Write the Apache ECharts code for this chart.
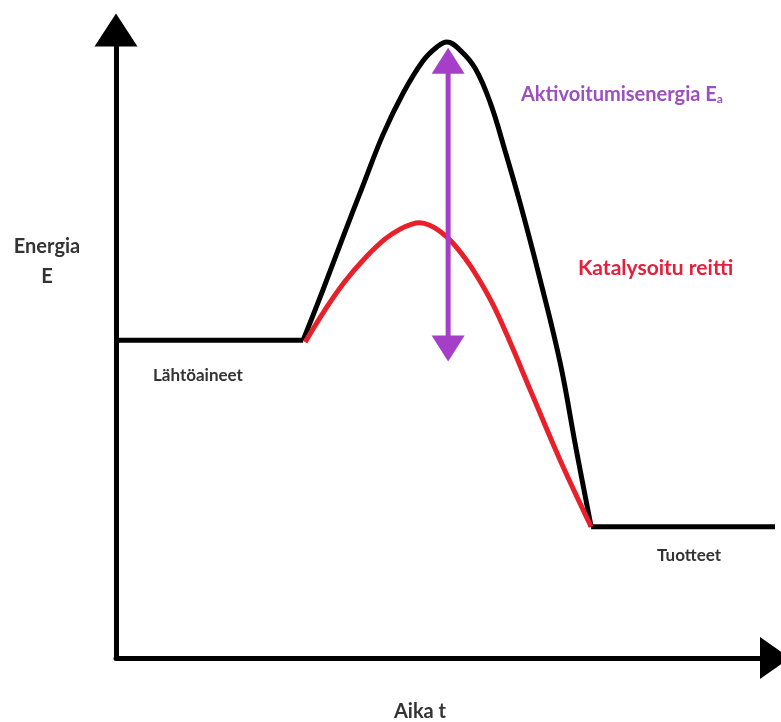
<!DOCTYPE html>
<html>
<head>
<meta charset="utf-8">
<script src="https://cdn.jsdelivr.net/npm/echarts@6/dist/echarts.min.js"></script>
<style>
  html, body { margin: 0; padding: 0; background: #ffffff; }
  #chart { width: 781px; height: 722px; }
</style>
</head>
<body>
<div id="chart"></div>
<script>
// Energy diagram data (arbitrary units: time 0..100, energy 0..100)
const reactantLine = [[0, 50.6], [28.4, 50.6]];
const uncatalysedPath = [
  [28.4, 50.6], [31.4, 58.6], [34.4, 66.9], [37.5, 75.3], [40.5, 83.3],
  [43.6, 90.0], [46.6, 95.1], [48.7, 97.3], [50.2, 98.1], [52.2, 96.8],
  [54.5, 93.9], [56.8, 88.4], [59.0, 80.9], [61.3, 72.5], [64.3, 60.5],
  [67.4, 47.0], [69.8, 33.4], [72.1, 20.9]
];
const catalysedPath = [
  [28.7, 50.3], [31.7, 55.4], [34.7, 59.9], [37.8, 63.7], [40.8, 66.7],
  [43.1, 68.3], [44.9, 69.1], [46.1, 69.3], [47.6, 68.9], [49.2, 67.9],
  [51.0, 66.2], [53.0, 63.6], [54.9, 60.6], [57.1, 56.5], [59.3, 51.5],
  [63.3, 41.6], [67.4, 31.5], [72.1, 20.9]
];
const productLine = [[72.1, 20.9], [100, 20.9]];
const eaArrow = [[50.4, 95.1], [50.4, 49.3]];

const labels = {
  yName: 'Energia\nE',
  xName: 'Aika t',
  reactants: 'Lähtöaineet',
  products: 'Tuotteet',
  catalysed: 'Katalysoitu reitti',
  ea: 'Aktivoitumisenergia E',
  eaSub: 'a'
};

const BLACK = '#000000';
const RED = '#e8202a';
const PURPLE = '#a63fc8';
const FONT = 'Lato, "Open Sans", sans-serif';

const chart = echarts.init(document.getElementById('chart'), null, { renderer: 'canvas' });

const axisCommon = {
  type: 'value',
  min: 0,
  max: 100,
  axisTick: { show: false },
  axisLabel: { show: false },
  splitLine: { show: false }
};

chart.setOption({
  animation: false,
  backgroundColor: '#ffffff',
  grid: { left: 116, right: 6, top: 30, bottom: 64, containLabel: false },
  xAxis: Object.assign({}, axisCommon, {
    axisLine: {
      show: true, onZero: false,
      symbol: ['none', 'triangle'], symbolSize: [42, 30],
      lineStyle: { color: BLACK, width: 5 }
    }
  }),
  yAxis: Object.assign({}, axisCommon, {
    axisLine: {
      show: true, onZero: false,
      symbol: ['none', 'triangle'], symbolSize: [43, 33],
      lineStyle: { color: BLACK, width: 5 }
    }
  }),
  series: [
    { type: 'line', data: reactantLine, symbol: 'none', lineStyle: { color: BLACK, width: 5 }, z: 2 },
    { type: 'line', data: productLine, symbol: 'none', lineStyle: { color: BLACK, width: 5 }, z: 2, clip: false },
    { type: 'line', data: uncatalysedPath, symbol: 'none', smooth: 0.4, lineStyle: { color: BLACK, width: 5 }, z: 2 },
    { type: 'line', data: catalysedPath, symbol: 'none', smooth: 0.4, lineStyle: { color: RED, width: 5 }, z: 3 },
    {
      type: 'line',
      data: [
        { value: eaArrow[0], symbolRotate: 0 },
        { value: eaArrow[1], symbolRotate: 180 }
      ],
      symbol: 'triangle', symbolSize: [33, 26], showAllSymbol: true,
      lineStyle: { color: PURPLE, width: 5 },
      itemStyle: { color: PURPLE },
      z: 4
    }
  ],
  graphic: [
    { type: 'text', style: { text: labels.yName, x: 47, y: 262, align: 'center', verticalAlign: 'middle', lineHeight: 30, font: 'bold 20px ' + FONT, fill: '#333333' } },
    { type: 'text', style: { text: labels.xName, x: 420, y: 712, align: 'center', verticalAlign: 'middle', font: 'bold 20px ' + FONT, fill: '#333333' } },
    { type: 'text', style: { text: labels.reactants, x: 153, y: 376, align: 'left', verticalAlign: 'middle', font: 'bold 17px ' + FONT, fill: '#333333' } },
    { type: 'text', style: { text: labels.products, x: 657, y: 556, align: 'left', verticalAlign: 'middle', font: 'bold 17px ' + FONT, fill: '#333333' } },
    { type: 'text', style: { text: labels.catalysed, x: 578, y: 268, align: 'left', verticalAlign: 'middle', font: 'bold 21px ' + FONT, fill: '#e2203c' } },
    {
      type: 'text',
      style: {
        text: '{m|' + labels.ea + '}{s|' + labels.eaSub + '}',
        x: 521, y: 95, align: 'left', verticalAlign: 'middle',
        rich: {
          m: { font: 'bold 20px ' + FONT, fill: '#9b4fc0', color: '#9b4fc0' },
          s: { font: 'bold 12px ' + FONT, fill: '#9b4fc0', color: '#9b4fc0', verticalAlign: 'bottom', padding: [7, 0, 0, 0] }
        }
      }
    }
  ]
});
</script>
</body>
</html>
